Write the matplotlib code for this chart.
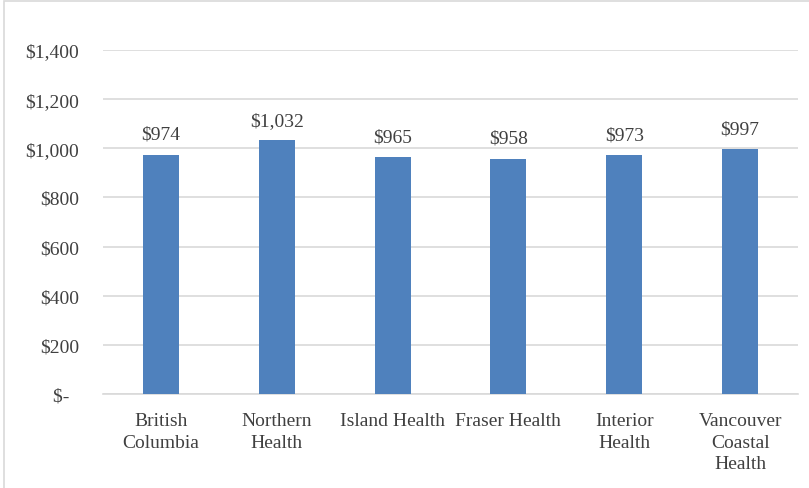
import matplotlib.pyplot as plt
from matplotlib.patches import Rectangle

regions = ['British\nColumbia', 'Northern\nHealth', 'Island Health', 'Fraser Health',
           'Interior\nHealth', 'Vancouver\nCoastal\nHealth']
costs = [974, 1032, 965, 958, 973, 997]
yticks = [0, 200, 400, 600, 800, 1000, 1200, 1400]
ylabels = ['$-  ' if v == 0 else '${:,}'.format(v) for v in yticks]

plt.rcParams['font.family'] = ['Liberation Serif', 'DejaVu Serif']

fig = plt.figure(figsize=(8.09, 4.89), dpi=100)
ax = fig.add_axes([0.1273, 0.1922, 0.8591, 0.7035])

x = range(len(regions))
bars = ax.bar(x, costs, width=0.31, color='#4F81BD', zorder=3)
for xi, v in zip(x, costs):
    ax.text(xi, v + 48, '${:,}'.format(v), ha='center', va='bottom',
            fontsize=14, color='#404040')

ax.set_xlim(-0.5, len(regions) - 0.5)
ax.set_ylim(0, 1400)
ax.set_yticks(yticks)
ax.set_yticklabels(ylabels, fontsize=14, color='#404040')
ax.set_xticks(list(x))
ax.set_xticklabels(regions, fontsize=14, color='#404040', linespacing=1.35)
ax.tick_params(axis='both', length=0)
ax.tick_params(axis='y', pad=17)
ax.tick_params(axis='x', pad=13)
ax.yaxis.grid(True, color='#D9D9D9', linewidth=1.2, zorder=0)
for s in ['top', 'right', 'left']:
    ax.spines[s].set_visible(False)
ax.spines['bottom'].set_color('#D9D9D9')
ax.spines['bottom'].set_linewidth(1.2)

# outer chart border
fig.patches.append(Rectangle((4 / 809, -0.01), 1.0, 1 - 2 / 489 + 0.01,
                             transform=fig.transFigure, fill=False,
                             edgecolor='#D9D9D9', linewidth=1.2))

fig.savefig('out.png', dpi=100)
